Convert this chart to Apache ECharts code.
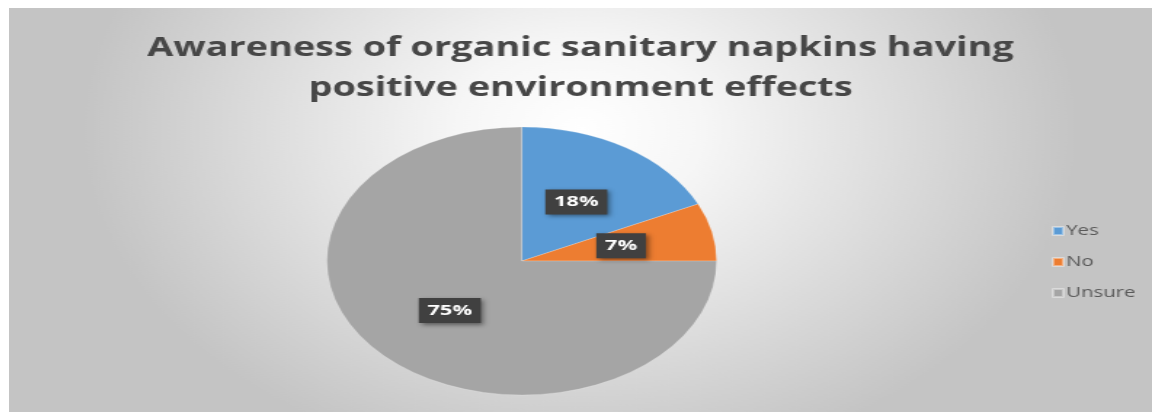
<!DOCTYPE html>
<html>
<head>
<meta charset="utf-8">
<script src="https://cdn.jsdelivr.net/npm/echarts@6/dist/echarts.min.js"></script>
<style>
html,body{margin:0;padding:0;background:#ffffff;width:1152px;height:412px;overflow:hidden;}
#wrap{position:absolute;left:9px;top:8px;width:1143px;height:404px;overflow:hidden;}
#chart{width:786px;height:404px;transform:scaleX(1.4542);transform-origin:0 0;}
</style>
</head>
<body>
<div id="wrap"><div id="chart"></div></div>
<script>
const titleText = 'Awareness of organic sanitary napkins having\npositive environment effects';
const categories = ['Yes', 'No', 'Unsure'];
const values = [18, 7, 75];
const colors = ['#5B9BD5', '#ED7D31', '#A5A5A5'];

const chart = echarts.init(document.getElementById('chart'), null, {renderer: 'canvas'});
chart.setOption({
  animation: false,
  backgroundColor: {
    type: 'radial', x: 0.5, y: 0.3, r: 0.85,
    colorStops: [{offset: 0, color: '#ffffff'}, {offset: 0.25, color: '#f6f6f6'}, {offset: 1, color: '#c4c4c4'}]
  },
  title: {
    text: titleText,
    left: 'center',
    top: 16,
    textStyle: {fontFamily: 'Open Sans', fontWeight: 'bold', fontSize: 26, lineHeight: 40, color: '#474747'}
  },
  legend: {
    orient: 'vertical',
    left: 712,
    top: 209,
    itemWidth: 7,
    itemHeight: 8,
    itemGap: 13,
    icon: 'rect',
    data: categories,
    textStyle: {fontFamily: 'Open Sans', fontSize: 14, lineHeight: 18, color: '#595959', padding: [0, 0, 0, -3]}
  },
  series: [{
    type: 'pie',
    center: [352.6, 253],
    radius: 134,
    startAngle: 90,
    clockwise: true,
    color: colors,
    data: categories.map((c, i) => ({name: c, value: values[i]})),
    itemStyle: {borderColor: 'rgba(255,255,255,0.4)', borderWidth: 0.5},
    label: {
      show: true,
      position: 'inside',
      formatter: '{d}%',
      fontFamily: 'Open Sans',
      fontWeight: 'bold',
      fontSize: 15,
      color: '#ffffff',
      backgroundColor: '#404040',
      padding: [5, 6, 5, 6],
      shadowColor: 'rgba(0,0,0,0.45)',
      shadowBlur: 4,
      shadowOffsetX: 2,
      shadowOffsetY: 2
    },
    labelLine: {show: false},
    emphasis: {disabled: true}
  }]
});
</script>
</body>
</html>
